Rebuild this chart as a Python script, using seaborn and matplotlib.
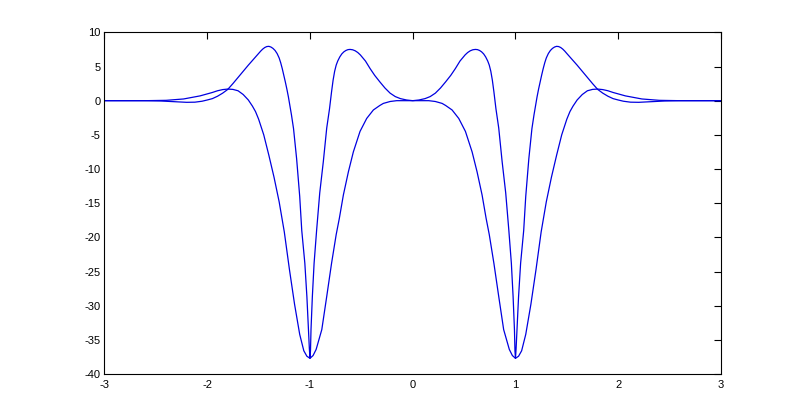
import numpy as np
import matplotlib
matplotlib.use("Agg")
import matplotlib.pyplot as plt
import seaborn as sb
import pandas as pd

# curva estreita (picos em +-0.6 e +-1.4), lado esquerdo e lado direito
xa_esq = [-3.0, -2.6, -2.45, -2.3, -2.2, -2.12, -2.05, -2.0, -1.95, -1.9, -1.85,
          -1.8, -1.75, -1.7, -1.65, -1.6, -1.55, -1.5, -1.48, -1.46, -1.44, -1.42,
          -1.4, -1.38, -1.36, -1.34, -1.32, -1.3, -1.285, -1.27, -1.255, -1.24,
          -1.225, -1.21, -1.195, -1.18, -1.16, -1.13, -1.1, -1.08, -1.05, -1.03,
          -1.015, -1.006, -1.0, -0.995, -0.99, -0.977, -0.96, -0.935, -0.905,
          -0.87, -0.837, -0.81, -0.79, -0.775, -0.76, -0.745, -0.73, -0.71, -0.69,
          -0.67, -0.65, -0.63, -0.61, -0.585, -0.56, -0.535, -0.51, -0.46, -0.415,
          -0.37, -0.32, -0.27, -0.22, -0.17, -0.12, -0.06]
ya_esq = [0.0, 0.0, -0.05, -0.17, -0.24, -0.22, -0.08, 0.1, 0.3, 0.65, 1.1,
          1.65, 2.5, 3.4, 4.3, 5.2, 6.05, 6.9, 7.25, 7.55, 7.78, 7.92,
          7.95, 7.85, 7.65, 7.35, 6.9, 6.25, 5.55, 4.7, 3.75, 2.75,
          1.7, 0.55, -0.75, -2.1, -4.1, -8.5, -14.0, -19.0, -23.8, -28.7,
          -33.5, -36.3, -37.7, -36.6, -33.5, -28.7, -23.8, -18.9, -13.5,
          -8.9, -4.0, -1.2, 1.3, 3.0, 4.3, 5.2, 5.8, 6.4, 6.85,
          7.15, 7.35, 7.47, 7.5, 7.45, 7.3, 7.05, 6.7, 5.8, 4.7,
          3.7, 2.75, 1.85, 1.1, 0.6, 0.3, 0.1]
xa_dir = [0.0, 0.06, 0.12, 0.17, 0.22, 0.27, 0.32, 0.37, 0.415, 0.46, 0.51,
          0.535, 0.56, 0.585, 0.61, 0.63, 0.65, 0.67, 0.69, 0.71, 0.73, 0.745,
          0.76, 0.775, 0.79, 0.81, 0.837, 0.87, 0.905, 0.935, 0.96, 0.977, 0.99,
          0.995, 1.0, 1.006, 1.015, 1.03, 1.05, 1.08, 1.1, 1.13, 1.16, 1.18, 1.195,
          1.21, 1.225, 1.24, 1.255, 1.27, 1.285, 1.3, 1.32, 1.34, 1.36, 1.38, 1.4,
          1.42, 1.44, 1.46, 1.48, 1.5, 1.55, 1.6, 1.65, 1.7, 1.75, 1.8, 1.85, 1.9,
          1.95, 2.0, 2.05, 2.12, 2.2, 2.3, 2.45, 2.6, 3.0]
ya_dir = [0.0, 0.1, 0.3, 0.6, 1.1, 1.85, 2.75, 3.7, 4.7, 5.8, 6.7,
          7.05, 7.3, 7.45, 7.5, 7.47, 7.35, 7.15, 6.85, 6.4, 5.8, 5.2,
          4.3, 3.0, 1.3, -1.2, -4.0, -8.9, -13.5, -18.9, -23.8, -28.7, -33.5,
          -36.6, -37.7, -36.3, -33.5, -28.7, -23.8, -19.0, -14.0, -8.5, -4.1, -2.1, -0.75,
          0.55, 1.7, 2.75, 3.75, 4.7, 5.55, 6.25, 6.9, 7.35, 7.65, 7.85, 7.95,
          7.92, 7.78, 7.55, 7.25, 6.9, 6.05, 5.2, 4.3, 3.4, 2.5, 1.65, 1.1, 0.65,
          0.3, 0.1, -0.08, -0.22, -0.24, -0.17, -0.05, 0.0, 0.0]

# curva larga (pocos em +-1, calombo em +-1.8)
xb_esq = [-3.0, -2.6, -2.4, -2.23, -2.07, -1.95, -1.9, -1.85, -1.8, -1.75, -1.7,
          -1.65, -1.6, -1.56, -1.53, -1.5, -1.45, -1.4, -1.35, -1.3, -1.25, -1.2,
          -1.15, -1.1, -1.06, -1.03, -1.0, -0.97, -0.94, -0.885, -0.837, -0.79,
          -0.745, -0.714, -0.675, -0.626, -0.578, -0.513, -0.448, -0.383, -0.32,
          -0.286, -0.22, -0.156]
yb_esq = [0.0, 0.0, 0.05, 0.25, 0.7, 1.2, 1.45, 1.62, 1.7, 1.65, 1.45,
          0.9, 0.1, -0.8, -1.6, -2.7, -5.0, -8.0, -11.2, -14.8, -19.2, -24.7,
          -29.8, -34.2, -36.6, -37.4, -37.7, -37.3, -36.4, -33.5, -28.65, -23.8,
          -19.6, -17.2, -13.8, -10.4, -7.5, -4.5, -2.6, -1.36, -0.7,
          -0.4, -0.12, 0.0]
xb_dir = [0.0, 0.156, 0.22, 0.286, 0.32, 0.383, 0.448, 0.513, 0.578, 0.626,
          0.675, 0.714, 0.745, 0.79, 0.837, 0.885, 0.94, 0.97, 1.0, 1.03, 1.06,
          1.1, 1.15, 1.2, 1.25, 1.3, 1.35, 1.4, 1.45, 1.5, 1.53, 1.56, 1.6, 1.65,
          1.7, 1.75, 1.8, 1.85, 1.9, 1.95, 2.07, 2.23, 2.4, 2.6, 3.0]
yb_dir = [0.0, 0.0, -0.12, -0.4, -0.7, -1.36, -2.6, -4.5, -7.5, -10.4,
          -13.8, -17.2, -19.6, -23.8, -28.65, -33.5, -36.4, -37.3, -37.7, -37.4, -36.6,
          -34.2, -29.8, -24.7, -19.2, -14.8, -11.2, -8.0, -5.0, -2.7, -1.6, -0.8, 0.1, 0.9,
          1.45, 1.65, 1.7, 1.62, 1.45, 1.2, 0.7, 0.25, 0.05, 0.0, 0.0]

xticks = [-3, -2, -1, 0, 1, 2, 3]
yticks = [-40, -35, -30, -25, -20, -15, -10, -5, 0, 5, 10]

sb.set_style("white")
plt.rcParams['font.family'] = ['Liberation Sans', 'DejaVu Sans']
plt.rcParams['axes.unicode_minus'] = False

fig = plt.figure(figsize=(7.97, 4.2), dpi=100)
ax = fig.add_axes([0.1311, 0.1095, 0.7735, 0.8135])

cor = '#0000e0'
sb.lineplot(x=xa_esq + xa_dir, y=ya_esq + ya_dir, ax=ax, sort=False,
            estimator=None, color=cor, linewidth=0.9)
sb.lineplot(x=xb_esq + xb_dir, y=yb_esq + yb_dir, ax=ax, sort=False,
            estimator=None, color=cor, linewidth=0.9)

ax.set_xlim(-3, 3)
ax.set_ylim(-40, 10)
ax.set_xticks(xticks)
ax.set_yticks(yticks)
ax.set_xticklabels([str(t) for t in xticks])
ax.set_yticklabels([str(t) for t in yticks])
ax.tick_params(direction='in', length=5, width=0.8, top=True, right=True,
               labelsize=8, colors='black')
ax.tick_params(axis='x', pad=4)
ax.tick_params(axis='y', pad=3)
for s in ax.spines.values():
    s.set_visible(True)
    s.set_color('black')
    s.set_linewidth(0.8)

plt.savefig("out.png", dpi=100, facecolor='white')
